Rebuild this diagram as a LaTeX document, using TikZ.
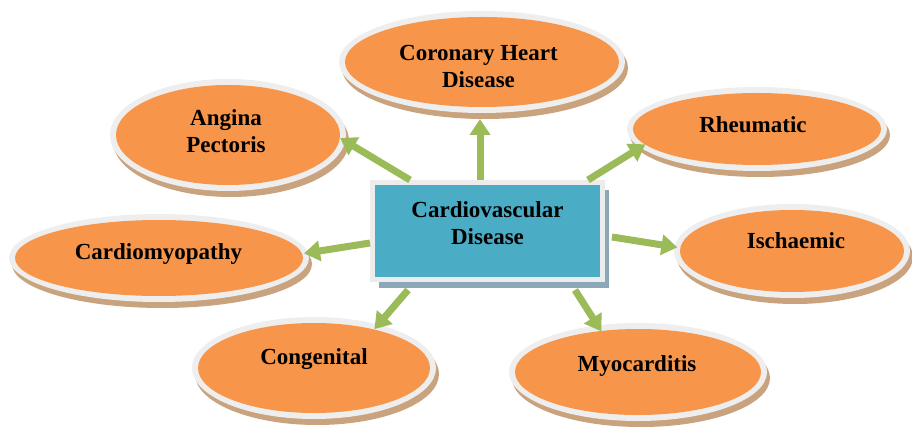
\documentclass[tikz,border=0pt]{standalone}
\usepackage{fontspec}
\setmainfont{Liberation Serif}
\usetikzlibrary{shapes.geometric,shadows,arrows.meta}
\definecolor{orangefill}{HTML}{F7964A}
\definecolor{ringcol}{HTML}{EEEEEE}
\definecolor{shadowbrown}{HTML}{C9A27E}
\definecolor{boxblue}{HTML}{4BACC6}
\definecolor{boxframe}{HTML}{ECECEC}
\definecolor{boxshadow}{HTML}{8CA7B5}
\definecolor{arrowgreen}{HTML}{9BBB59}
\tikzset{
  disc/.style 2 args={ellipse, inner sep=0pt, outer sep=0pt,
    minimum width=#1, minimum height=#2, fill=ringcol,
    drop shadow={shadow xshift=3pt, shadow yshift=-6pt, fill=shadowbrown, opacity=1},
    path picture={\fill[orangefill] (path picture bounding box.center)
      ellipse [x radius=#1/2-6pt, y radius=#2/2-6pt];}},
  lbl/.style={font=\fontsize{23}{27}\selectfont\bfseries, align=center, inner sep=0pt, text=black},
  link/.style={draw=arrowgreen, line width=7pt, -{Triangle[length=16pt,width=20pt]}},
  mainbox/.style={rectangle, draw=boxframe, line width=5pt, fill=boxblue,
    minimum width=230pt, minimum height=97pt, inner sep=0pt,
    drop shadow={shadow xshift=6pt, shadow yshift=-8pt, fill=boxshadow, opacity=1}},
}
\begin{document}
\begin{tikzpicture}[x=1pt,y=-1pt]
\fill[white] (0,0) rectangle (912,430);
\useasboundingbox (0,0) rectangle (912,430);

% outer nodes
\node[disc={286pt}{102pt}] (chd) at (482,62) {};
\node[disc={236pt}{112pt}] (ang) at (228,135) {};
\node[disc={260pt}{84pt}]  (rhe) at (757,129) {};
\node[disc={300pt}{88pt}]  (cmy) at (159,258) {};
\node[disc={236pt}{94pt}]  (isc) at (792,251) {};
\node[disc={244pt}{102pt}] (con) at (314,368) {};
\node[disc={258pt}{98pt}]  (myo) at (638,372) {};

% central box
\node[mainbox] (cvd) at (487.5,231) {};

% labels
\node[lbl] (chdt) at ([shift={(-3.5,4.5)}]chd.center) {Coronary Heart\\Disease};
\node[lbl] (angt) at ([shift={(-2,-3.5)}]ang.center) {Angina\\Pectoris};
\node[lbl] (rhet) at ([shift={(-4,-4.5)}]rhe.center) {Rheumatic};
\node[lbl] (cmyt) at ([shift={(-0.5,-3.5)}]cmy.center) {Cardiomyopathy};
\node[lbl] (isct) at ([shift={(4,-10.5)}]isc.center) {Ischaemic};
\node[lbl] (cont) at ([shift={(0,-8.5)}]con.center) {Congenital};
\node[lbl] (myot) at ([shift={(-1,-5.5)}]myo.center) {Myocarditis};
\node[lbl] (cvdt) at ([shift={(0,-7.5)}]cvd.center) {Cardiovascular\\Disease};

% connectors
\draw[link, shorten >=-6pt] ([shift={(40,0)}]cvd.north west) -- (ang.-3);
\draw[link] ([shift={(-7.5,0)}]cvd.north) -- ([shift={(-2,6)}]chd.south);
\draw[link, shorten >=-6pt] ([shift={(-17,0)}]cvd.north east) -- (rhe.189);
\draw[link, shorten >=-4pt] ([shift={(0,12)}]cvd.west) -- (cmy.2);
\draw[link, shorten >=-3pt] ([shift={(7,6)}]cvd.east) -- (isc.178);
\draw[link, shorten >=-6pt] ([shift={(38,8)}]cvd.south west) -- (con.34);
\draw[link, shorten >=-7pt] ([shift={(-30,8)}]cvd.south east) -- (myo.131);
\end{tikzpicture}
\end{document}
